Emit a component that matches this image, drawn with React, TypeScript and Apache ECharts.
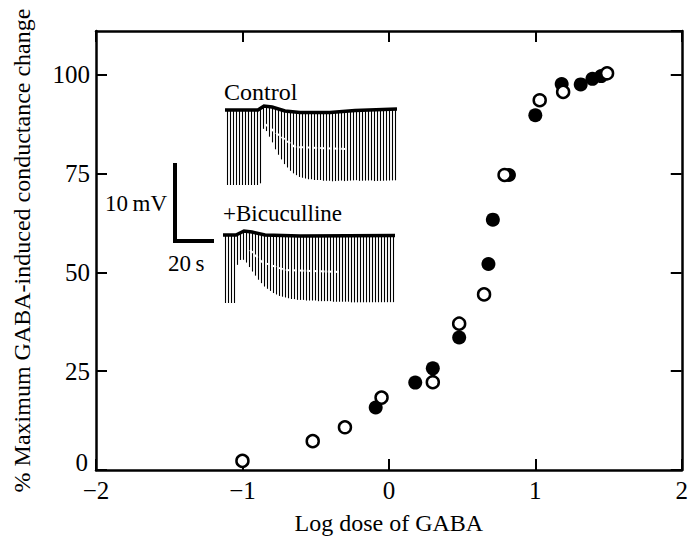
import React, { useEffect, useRef } from "react";
import * as echarts from "echarts";

// ---- Data ----
const openDoses = [-1.0, -0.52, -0.3, -0.05, 0.3, 0.48, 0.65, 0.79, 1.03, 1.19, 1.49];
const openResponses = [2.3, 7.3, 10.8, 18.3, 22.2, 37.0, 44.4, 74.6, 93.5, 95.6, 100.3];

const filledDoses = [-0.09, 0.18, 0.3, 0.48, 0.68, 0.71, 0.82, 1.0, 1.18, 1.31, 1.39, 1.45];
const filledResponses = [15.8, 22.1, 25.7, 33.5, 52.1, 63.3, 74.6, 89.7, 97.6, 97.5, 98.9, 99.6];

const xTickValues = [-2, -1, 0, 1, 2];
const yTickValues = [0, 25, 50, 75, 100];

// Inset traces: relative depth of each deflection (1 = full response)
const controlDepths = [
  1, 1, 1, 1, 1, 1, 1, 1, 1, 1, 1, 1,
  0.3, 0.33, 0.4, 0.47, 0.55, 0.61, 0.66, 0.71, 0.75, 0.79, 0.82, 0.84, 0.86, 0.87, 0.88,
  0.89, 0.89, 0.9, 0.9, 0.9, 0.91, 0.91, 0.91, 0.92, 0.92, 0.92, 0.92, 0.93, 0.93, 0.93,
  0.93, 0.93, 0.94, 0.94, 0.94, 0.94, 0.94, 0.95, 0.95, 0.95, 0.95, 0.95, 0.95, 0.95, 0.95,
];
const bicucullineDepths = [
  1, 1, 1, 1,
  0.45, 0.4, 0.42, 0.46, 0.52, 0.58, 0.63, 0.68, 0.72, 0.76, 0.79, 0.82, 0.85, 0.87, 0.89,
  0.9, 0.91, 0.92, 0.93,
  0.93, 0.94, 0.94, 0.94, 0.95, 0.95, 0.95, 0.95, 0.96, 0.96, 0.96, 0.96, 0.96, 0.97, 0.97,
  0.97, 0.97, 0.97, 0.97, 0.98, 0.98, 0.98, 0.98, 0.98, 0.98, 0.98, 0.98, 0.98, 0.98, 0.98,
  0.98, 0.98, 0.98, 0.98,
];

const FONT = '"Liberation Serif", "Times New Roman", serif';

function traceElements(
  depths: number[],
  x0: number,
  step: number,
  baseline: [number, number][],
  fullDepth: number,
  gap: [number, number][]
) {
  const baseAt = (x: number) => {
    for (let i = 0; i < baseline.length - 1; i++) {
      const [xa, ya] = baseline[i];
      const [xb, yb] = baseline[i + 1];
      if (x >= xa && x <= xb) return ya + ((x - xa) / (xb - xa)) * (yb - ya);
    }
    return baseline[baseline.length - 1][1];
  };
  const els: any[] = depths.map((d, i) => {
    const x = x0 + i * step;
    const yb = baseAt(x);
    return {
      type: "line",
      shape: { x1: x, y1: yb, x2: x, y2: yb + d * fullDepth },
      style: { stroke: "#000", lineWidth: 1.1 },
      silent: true,
      z: 10,
    };
  });
  els.push({
    type: "polyline",
    shape: { points: gap },
    style: { stroke: "#fff", lineWidth: 2, lineDash: [4, 3], fill: null },
    silent: true,
    z: 11,
  });
  els.push({
    type: "polyline",
    shape: { points: baseline },
    style: { stroke: "#000", lineWidth: 3.5, fill: null },
    silent: true,
    z: 12,
  });
  return els;
}

export default function App() {
  const ref = useRef<HTMLDivElement>(null);

  useEffect(() => {
    document.body.style.margin = "0";
    if (!ref.current) return;
    const chart = echarts.init(ref.current, null, { renderer: "svg" });

    const axisLineStyle = { color: "#000", width: 2.5 };
    const tickStyle = { color: "#000", width: 2 };
    const labelStyle = { color: "#000", fontSize: 25, fontFamily: FONT };

    const fmtX = (v: number) =>
      xTickValues.includes(v) ? (v < 0 ? "\u2212" + Math.abs(v) : String(v)) : "";
    const fmtY = (v: number) =>
      yTickValues.includes(v) ? (v === 0 ? "{zero|0}" : String(v)) : "";

    const txt = { fontFamily: FONT, fill: "#000", verticalAlign: "middle" };

    const graphics: any[] = [
      ...traceElements(
        controlDepths,
        227.5,
        3,
        [
          [225, 110],
          [258, 110],
          [264, 106],
          [272, 107],
          [285, 111],
          [300, 112.5],
          [330, 112.5],
          [355, 110.5],
          [397, 109],
        ],
        75,
        [
          [265, 124],
          [280, 136],
          [295, 147],
          [345, 149],
        ]
      ),
      ...traceElements(
        bicucullineDepths,
        225.5,
        3,
        [
          [223, 235],
          [236, 235],
          [244, 231],
          [252, 232],
          [265, 235],
          [300, 236],
          [395, 235.5],
        ],
        68,
        [
          [250, 250],
          [262, 262],
          [285, 270],
          [340, 272],
        ]
      ),
      { type: "text", style: { ...txt, text: "Control", x: 224, y: 92, fontSize: 24 }, z: 12 },
      { type: "text", style: { ...txt, text: "+Bicuculline", x: 223, y: 213, fontSize: 23 }, z: 12 },
      {
        type: "polyline",
        shape: { points: [[175, 163], [175, 241], [214, 241]] },
        style: { stroke: "#000", lineWidth: 4, fill: null },
        z: 12,
      },
      { type: "text", style: { ...txt, text: "10\u2009mV", x: 167, y: 203, fontSize: 23, align: "right" }, z: 12 },
      { type: "text", style: { ...txt, text: "20\u2009s", x: 168, y: 263, fontSize: 23 }, z: 12 },
    ];

    const xCommon = {
      type: "value",
      min: -2,
      max: 2,
      interval: 1,
      axisLine: { show: true, onZero: false, lineStyle: axisLineStyle },
      axisTick: { show: true, inside: true, length: 11, lineStyle: tickStyle },
      splitLine: { show: false },
    };
    const yCommon = {
      type: "value",
      min: 0,
      max: 111,
      interval: 25,
      axisLine: { show: true, onZero: false, lineStyle: axisLineStyle },
      axisTick: { show: true, inside: true, length: 11, lineStyle: tickStyle },
      splitLine: { show: false },
    };

    chart.setOption({
      animation: false,
      backgroundColor: "#fff",
      grid: { left: 96, right: 1, top: 31, bottom: 68, containLabel: false },
      xAxis: [
        {
          ...xCommon,
          position: "bottom",
          axisLabel: { ...labelStyle, margin: 8, formatter: fmtX },
          name: "Log dose of GABA",
          nameLocation: "middle",
          nameGap: 41,
          nameTextStyle: { color: "#000", fontSize: 24, fontFamily: FONT },
        },
        { ...xCommon, position: "top", axisLabel: { show: false } },
      ],
      yAxis: [
        {
          ...yCommon,
          position: "left",
          axisLabel: {
            ...labelStyle,
            margin: 6,
            formatter: fmtY,
            showMaxLabel: false,
            rich: {
              zero: { fontSize: 25, fontFamily: FONT, color: "#000", padding: [0, 2, 16, 0] },
            },
          },
          name: "% Maximum GABA-induced conductance change",
          nameLocation: "middle",
          nameGap: 62,
          nameRotate: 90,
          nameTextStyle: { color: "#000", fontSize: 24, fontFamily: FONT },
        },
        { ...yCommon, position: "right", axisLabel: { show: false } },
      ],
      series: [
        {
          type: "scatter",
          name: "Control",
          xAxisIndex: 0,
          yAxisIndex: 0,
          data: filledDoses.map((d, i) => [d, filledResponses[i]]),
          symbol: "circle",
          symbolSize: 14,
          itemStyle: { color: "#000", opacity: 1 },
          z: 3,
        },
        {
          type: "scatter",
          name: "+Bicuculline",
          xAxisIndex: 0,
          yAxisIndex: 0,
          data: openDoses.map((d, i) => [d, openResponses[i]]),
          symbol: "circle",
          symbolSize: 12,
          itemStyle: { color: "#fff", borderColor: "#000", borderWidth: 2.5, opacity: 1 },
          z: 4,
        },
      ],
      graphic: graphics,
    });

    return () => chart.dispose();
  }, []);

  return <div ref={ref} style={{ width: 691, height: 540 }} />;
}
